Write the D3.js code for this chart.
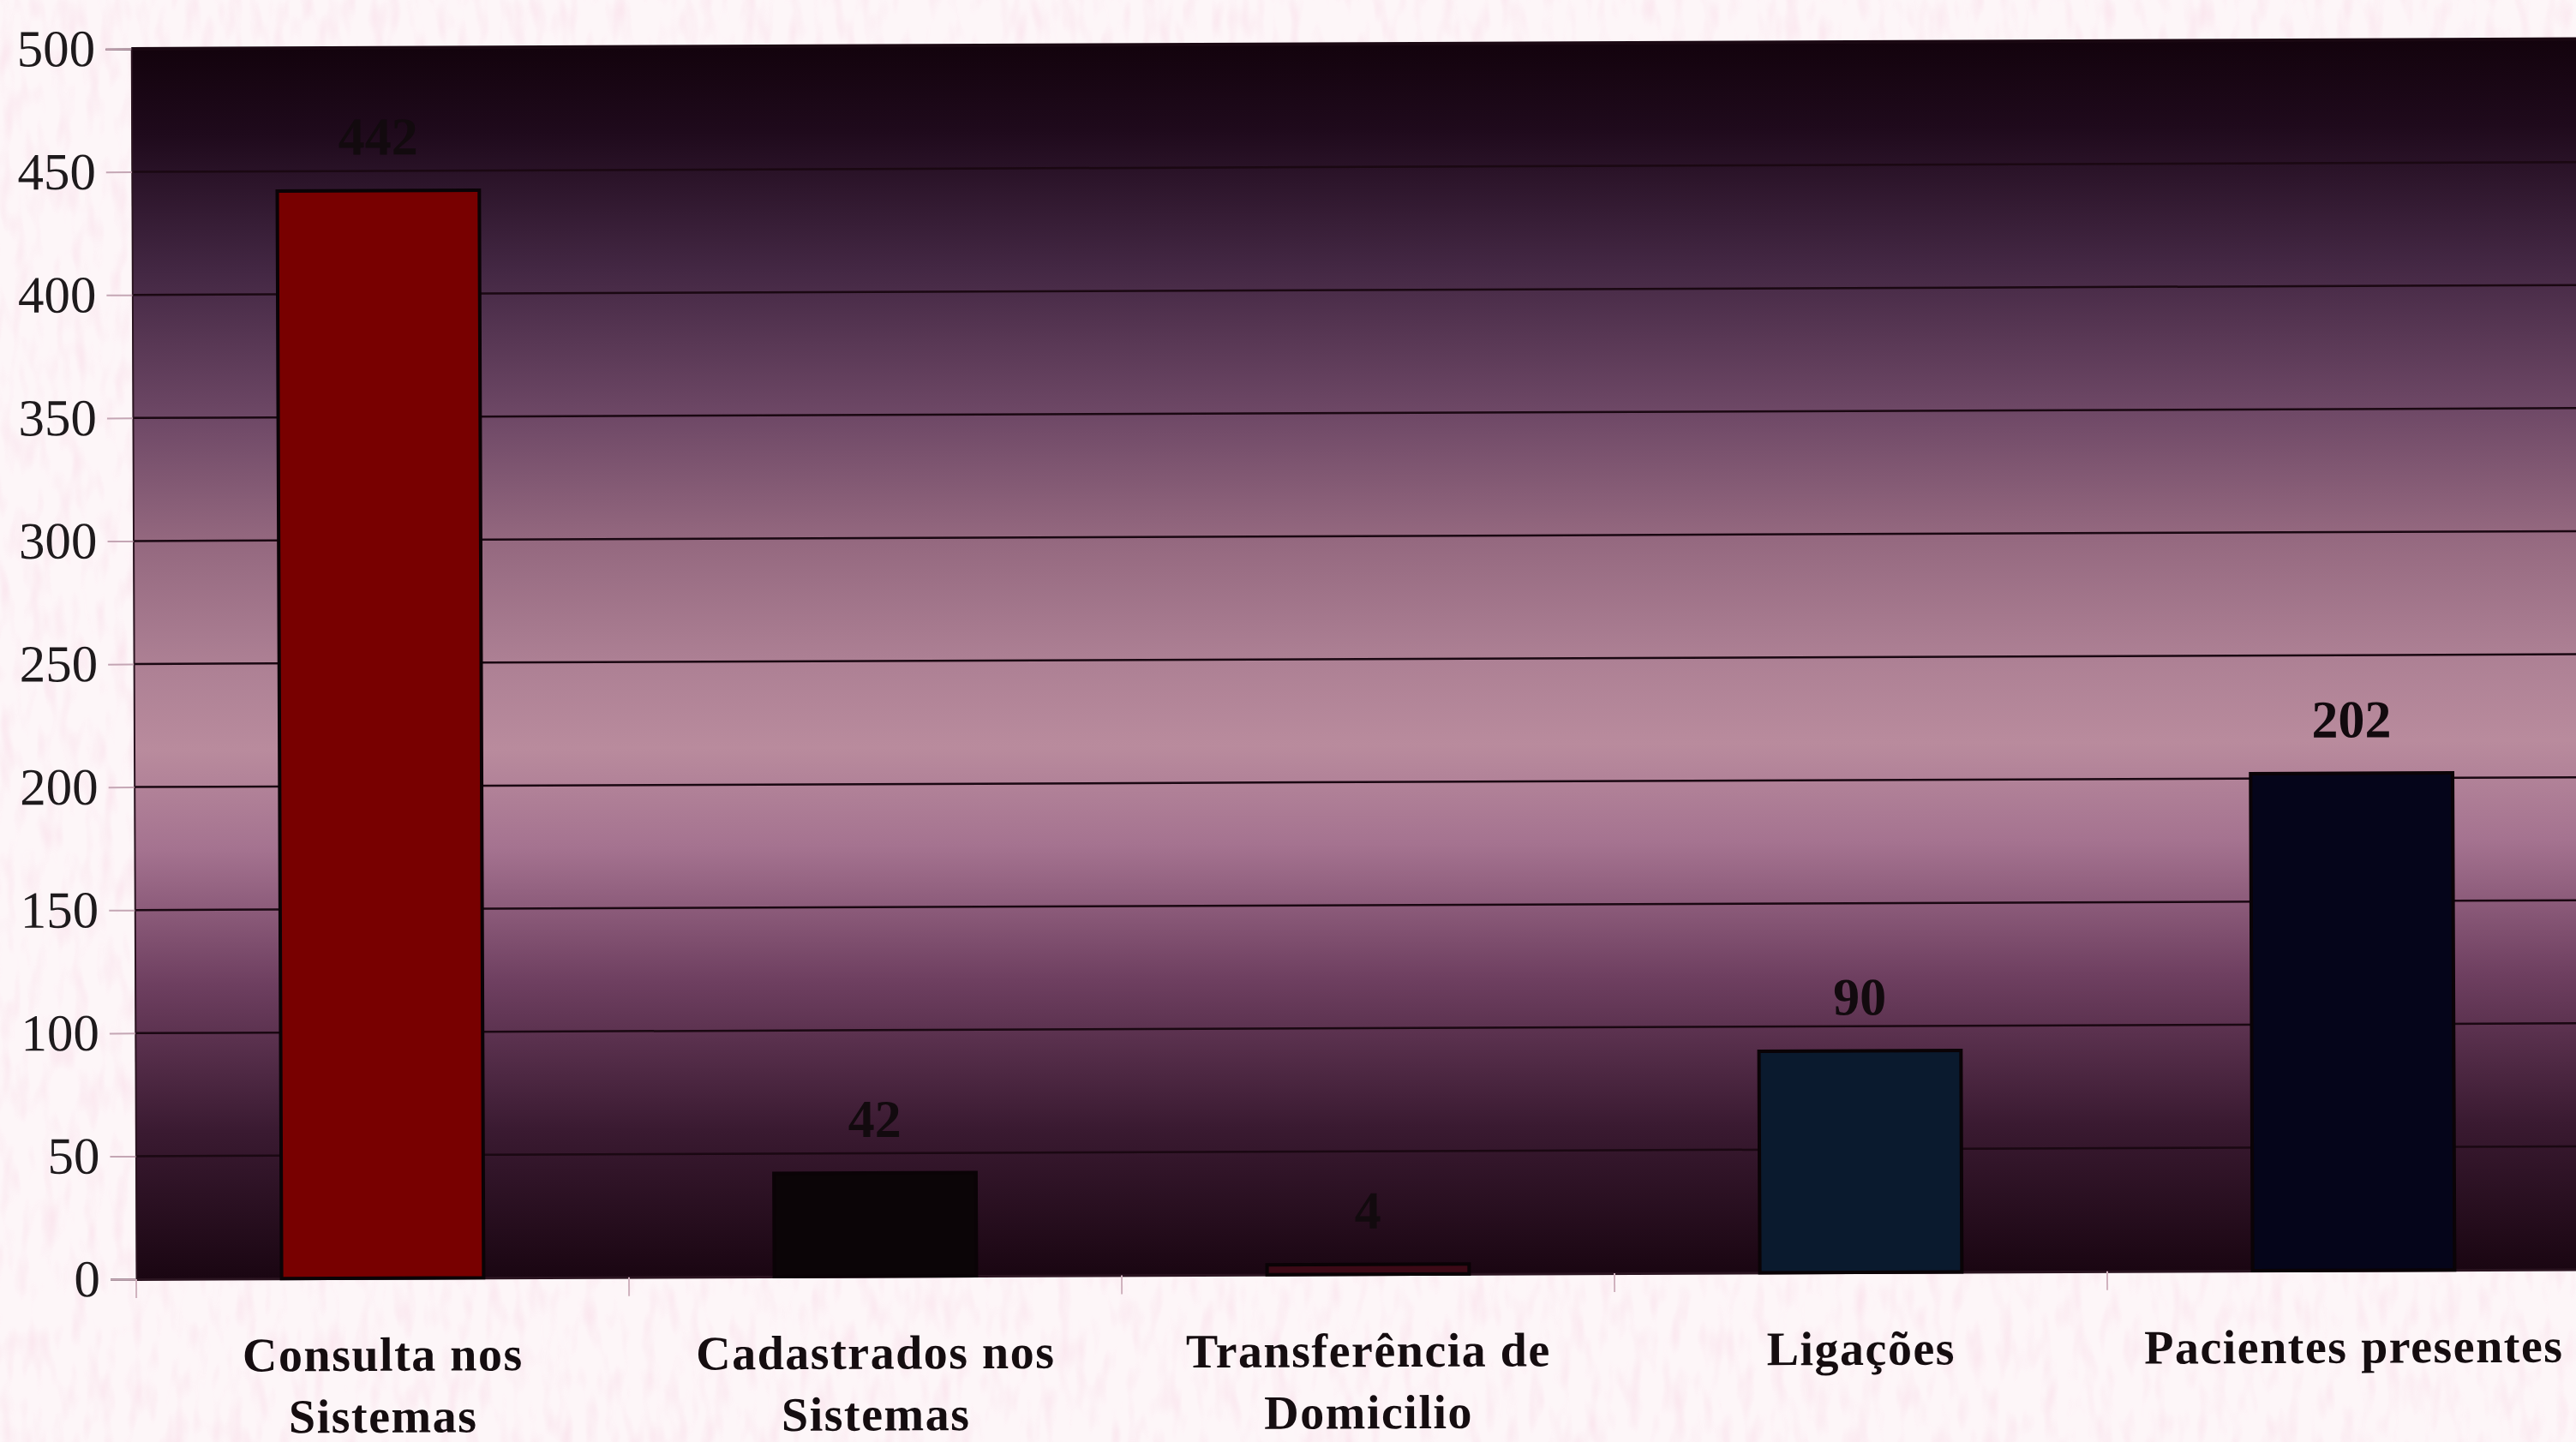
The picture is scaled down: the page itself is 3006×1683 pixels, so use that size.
<!DOCTYPE html>
<html>
<head>
<meta charset="utf-8">
<script src="https://cdn.jsdelivr.net/npm/d3@7"></script>
<style>
  html, body { margin: 0; padding: 0; background: #fcf3f6; }
  svg { display: block; }
</style>
</head>
<body>
<div id="chart"></div>
<script>
// chart data
const categories = ['Consulta nos\nSistemas', 'Cadastrados nos\nSistemas', 'Transferência de\nDomicilio', 'Ligações', 'Pacientes presentes'];
const values = [442, 42, 4, 90, 202];
const barColors = ['#780000', '#0b0507', '#3c0a16', '#0a1a2e', '#05051a'];
const yTicks = [0, 50, 100, 150, 200, 250, 300, 350, 400, 450, 500];

const width = 3006;
const height = 1683;
const margin = {top: 57, left: 159, bottom: 190};
const plotW = 575 * categories.length;
const plotH = height - margin.top - margin.bottom;

const svg = d3.select('#chart').append('svg')
  .attr('width', width)
  .attr('height', height);

const defs = svg.append('defs');

// paper speckle for the page
const speckle = defs.append('filter').attr('id', 'speckle')
  .attr('x', 0).attr('y', 0).attr('width', '100%').attr('height', '100%');
speckle.append('feTurbulence')
  .attr('type', 'fractalNoise')
  .attr('baseFrequency', '0.06 0.02')
  .attr('numOctaves', 2)
  .attr('seed', 3);
speckle.append('feColorMatrix')
  .attr('type', 'matrix')
  .attr('values', '0 0 0 0 0.93  0 0 0 0 0.62  0 0 0 0 0.74  0 0 0 1.6 -0.75');
speckle.append('feComposite').attr('in2', 'SourceGraphic').attr('operator', 'in');

svg.append('rect')
  .attr('width', width).attr('height', height)
  .attr('fill', '#fdf6f8');
svg.append('rect')
  .attr('width', width).attr('height', height)
  .attr('fill', '#fff')
  .attr('opacity', 0.55)
  .attr('filter', 'url(#speckle)');

// plot background gradient (dark top/bottom, mauve in the middle)
const grad = defs.append('linearGradient')
  .attr('id', 'bg')
  .attr('x1', 0).attr('y1', 0).attr('x2', 0).attr('y2', 1);
[
  [0, '#13030d'], [0.07, '#1f0a1c'], [0.18, '#432743'], [0.3, '#6e4866'],
  [0.4, '#94687f'], [0.5, '#ad8094'], [0.57, '#b98b9d'], [0.65, '#a57390'],
  [0.76, '#6e3f60'], [0.88, '#3a1a31'], [1, '#1a0612']
].forEach(s => grad.append('stop').attr('offset', s[0]).attr('stop-color', s[1]));

const g = svg.append('g')
  .attr('transform', 'translate(' + margin.left + ',' + margin.top + ') rotate(-0.23 0 ' + plotH + ')');

const x = d3.scaleBand()
  .domain(categories)
  .range([0, plotW])
  .paddingInner(0.59)
  .paddingOuter(0.295);

const y = d3.scaleLinear()
  .domain([0, 500])
  .range([plotH, 0]);

g.append('rect')
  .attr('width', plotW)
  .attr('height', plotH)
  .attr('fill', 'url(#bg)');

// gridlines
g.append('g')
  .selectAll('line')
  .data(yTicks.filter(d => d > 0))
  .enter().append('line')
  .attr('x1', 0)
  .attr('x2', plotW)
  .attr('y1', d => y(d))
  .attr('y2', d => y(d))
  .attr('stroke', '#1a0812')
  .attr('stroke-width', d => d === 500 ? 4 : 2.5);

// y axis
const yAxis = g.append('g')
  .call(d3.axisLeft(y).tickValues(yTicks).tickSize(30).tickPadding(12));
yAxis.select('.domain').attr('stroke', '#2a1420').attr('stroke-width', 2);
yAxis.selectAll('.tick line').attr('stroke', '#c4a6b4').attr('stroke-width', 2);
yAxis.selectAll('.tick text')
  .attr('fill', '#1e1a1c')
  .style('font-family', '"Liberation Serif", "Times New Roman", serif')
  .style('font-size', '61px');

// x axis
const xAxis = g.append('g')
  .attr('transform', 'translate(0,' + plotH + ')')
  .call(d3.axisBottom(x).tickSize(0).tickFormat(''));
xAxis.select('.domain').attr('stroke', '#2a1420').attr('stroke-width', 3);

g.append('g')
  .selectAll('line')
  .data(d3.range(categories.length + 1))
  .enter().append('line')
  .attr('x1', i => i * x.step())
  .attr('x2', i => i * x.step())
  .attr('y1', plotH)
  .attr('y2', plotH + 22)
  .attr('stroke', '#d0b2be')
  .attr('stroke-width', 2);

// bars
g.append('g')
  .selectAll('rect')
  .data(values)
  .enter().append('rect')
  .attr('x', (d, i) => x(categories[i]))
  .attr('y', d => y(d))
  .attr('width', x.bandwidth())
  .attr('height', d => plotH - y(d))
  .attr('fill', (d, i) => barColors[i])
  .attr('stroke', '#0a0306')
  .attr('stroke-width', 4);

// value labels
g.append('g')
  .selectAll('text')
  .data(values)
  .enter().append('text')
  .attr('x', (d, i) => x(categories[i]) + x.bandwidth() / 2)
  .attr('y', d => y(d) - 42)
  .attr('text-anchor', 'middle')
  .attr('fill', '#120a0e')
  .style('font-family', '"Liberation Serif", "Times New Roman", serif')
  .style('font-weight', 'bold')
  .style('font-size', '62px')
  .text(d => d);

// category labels
const catText = g.append('g')
  .selectAll('text')
  .data(categories)
  .enter().append('text')
  .attr('x', d => x(d) + x.bandwidth() / 2)
  .attr('y', plotH + 108)
  .attr('text-anchor', 'middle')
  .attr('fill', '#150d10')
  .style('font-family', '"Liberation Serif", "Times New Roman", serif')
  .style('font-weight', 'bold')
  .style('font-size', '56px')
  .style('letter-spacing', '1.5px');

catText.each(function(d) {
  const t = d3.select(this);
  const cx = t.attr('x');
  d.split('\n').forEach((line, i) => {
    t.append('tspan')
      .attr('x', cx)
      .attr('dy', i === 0 ? 0 : 72)
      .text(line);
  });
});
</script>
</body>
</html>
